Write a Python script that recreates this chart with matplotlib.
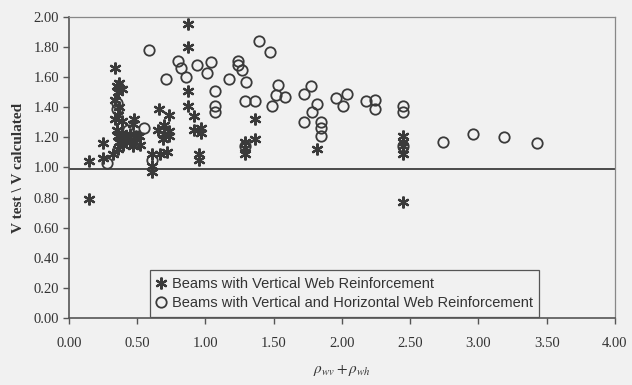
import matplotlib
matplotlib.use("Agg")
import matplotlib.pyplot as plt
import numpy as np

# Beams with vertical web reinforcement only
vert_x = [0.15, 0.15, 0.25, 0.25, 0.32, 0.34, 0.37, 0.35, 0.39, 0.36, 0.34, 0.37,
          0.36, 0.34, 0.39, 0.35, 0.39, 0.36, 0.42, 0.40, 0.36, 0.37, 0.48, 0.47,
          0.45, 0.49, 0.45, 0.47, 0.51, 0.52, 0.61, 0.61, 0.61, 0.66, 0.73, 0.65,
          0.70, 0.70, 0.73, 0.69, 0.73, 0.67, 0.72, 0.87, 0.87, 0.87, 0.87, 0.92,
          0.92, 0.97, 0.97, 0.95, 0.95, 1.29, 1.29, 1.29, 1.36, 1.36, 1.82, 2.45,
          2.45, 2.45, 2.45, 2.45]
vert_y = [1.04, 0.79, 1.16, 1.06, 1.09, 1.66, 1.56, 1.54, 1.52, 1.50, 1.45, 1.40,
          1.35, 1.32, 1.31, 1.25, 1.23, 1.21, 1.20, 1.15, 1.12, 1.17, 1.32, 1.29,
          1.22, 1.21, 1.17, 1.14, 1.21, 1.15, 1.09, 1.01, 0.97, 1.39, 1.35, 1.25,
          1.28, 1.22, 1.21, 1.19, 1.24, 1.09, 1.10, 1.95, 1.80, 1.51, 1.41, 1.34,
          1.25, 1.26, 1.23, 1.09, 1.05, 1.17, 1.13, 1.09, 1.32, 1.19, 1.12, 1.21,
          1.17, 1.14, 1.09, 0.77]

# Beams with vertical and horizontal web reinforcement
both_x = [0.28, 0.35, 0.35, 0.43, 0.55, 0.61, 0.59, 0.71, 0.80, 0.82, 0.86, 0.94,
          1.01, 1.04, 1.07, 1.07, 1.07, 1.17, 1.24, 1.24, 1.27, 1.30, 1.29, 1.36,
          1.39, 1.47, 1.53, 1.52, 1.58, 1.49, 1.72, 1.77, 1.82, 1.78, 1.72, 1.85,
          1.85, 1.85, 1.96, 2.01, 2.04, 2.18, 2.24, 2.24, 2.45, 2.45, 2.74, 2.96,
          3.19, 3.43, 1.29, 2.45]
both_y = [1.03, 1.43, 1.39, 1.25, 1.26, 1.05, 1.78, 1.59, 1.71, 1.66, 1.60, 1.68,
          1.63, 1.70, 1.51, 1.41, 1.37, 1.59, 1.71, 1.68, 1.65, 1.57, 1.44, 1.44,
          1.84, 1.77, 1.55, 1.48, 1.47, 1.41, 1.49, 1.54, 1.42, 1.37, 1.30, 1.30,
          1.26, 1.21, 1.46, 1.41, 1.49, 1.44, 1.45, 1.39, 1.41, 1.37, 1.17, 1.22,
          1.20, 1.16, 1.14, 1.14]

x_ticks = [0.0, 0.5, 1.0, 1.5, 2.0, 2.5, 3.0, 3.5, 4.0]
y_ticks = [0.0, 0.2, 0.4, 0.6, 0.8, 1.0, 1.2, 1.4, 1.6, 1.8, 2.0]
ratio_line = 0.99

bg = "#f1f1f1"
ink = "#3a3a3a"

plt.rcParams["mathtext.fontset"] = "stix"

fig = plt.figure(figsize=(6.32, 3.85), dpi=100, facecolor=bg)
ax = fig.add_axes([0.109, 0.174, 0.864, 0.782], facecolor=bg)

ax.axhline(ratio_line, color="#4a4a4a", lw=1.4, zorder=1)

ax.plot(vert_x, vert_y, linestyle="none", marker=(6, 2, 0), markersize=8.5,
        markeredgewidth=1.6, color=ink, zorder=3,
        label="Beams with Vertical Web Reinforcement")
ax.plot(both_x, both_y, linestyle="none", marker="o", markersize=7.5,
        markerfacecolor="none", markeredgewidth=1.3, markeredgecolor=ink,
        zorder=2, label="Beams with Vertical and Horizontal Web Reinforcement")

ax.set_xlim(0, 4.0)
ax.set_ylim(0, 2.0)
ax.set_xticks(x_ticks)
ax.set_yticks(y_ticks)
ax.set_xticklabels([f"{v:.2f}" for v in x_ticks])
ax.set_yticklabels([f"{v:.2f}" for v in y_ticks])

serif = ["Liberation Serif", "DejaVu Serif"]
for lab in ax.get_xticklabels() + ax.get_yticklabels():
    lab.set_fontfamily(serif)
    lab.set_fontsize(10.5)
    lab.set_color("#333333")

ax.tick_params(axis="both", direction="out", length=4, width=1, color="#555555")
ax.tick_params(axis="x", pad=10)
ax.tick_params(axis="y", pad=3)

for side in ("left", "bottom"):
    ax.spines[side].set_color("#555555")
    ax.spines[side].set_linewidth(1.2)
for side in ("top", "right"):
    ax.spines[side].set_color("#888888")
    ax.spines[side].set_linewidth(0.9)
    ax.spines[side].set_linestyle((0, (1, 1)))

ax.set_ylabel("V test \\ V calculated", fontfamily=serif, fontweight="bold",
              fontsize=11, color="#333333", labelpad=6)
ax.set_xlabel(r"$\rho_{wv} + \rho_{wh}$", fontsize=11, color="#333333",
              labelpad=9)

leg = ax.legend(loc="lower left", bbox_to_anchor=(0.148, 0.005),
                prop={"family": "Liberation Sans", "size": 10.5},
                frameon=True, fancybox=False, framealpha=1.0,
                handlelength=0.7, handletextpad=0.35, borderpad=0.45,
                labelspacing=0.35, borderaxespad=0)
leg.get_frame().set_facecolor(bg)
leg.get_frame().set_edgecolor("#555555")
leg.get_frame().set_linewidth(0.9)
for t in leg.get_texts():
    t.set_color("#333333")

fig.savefig("out.png", dpi=100, facecolor=bg)
